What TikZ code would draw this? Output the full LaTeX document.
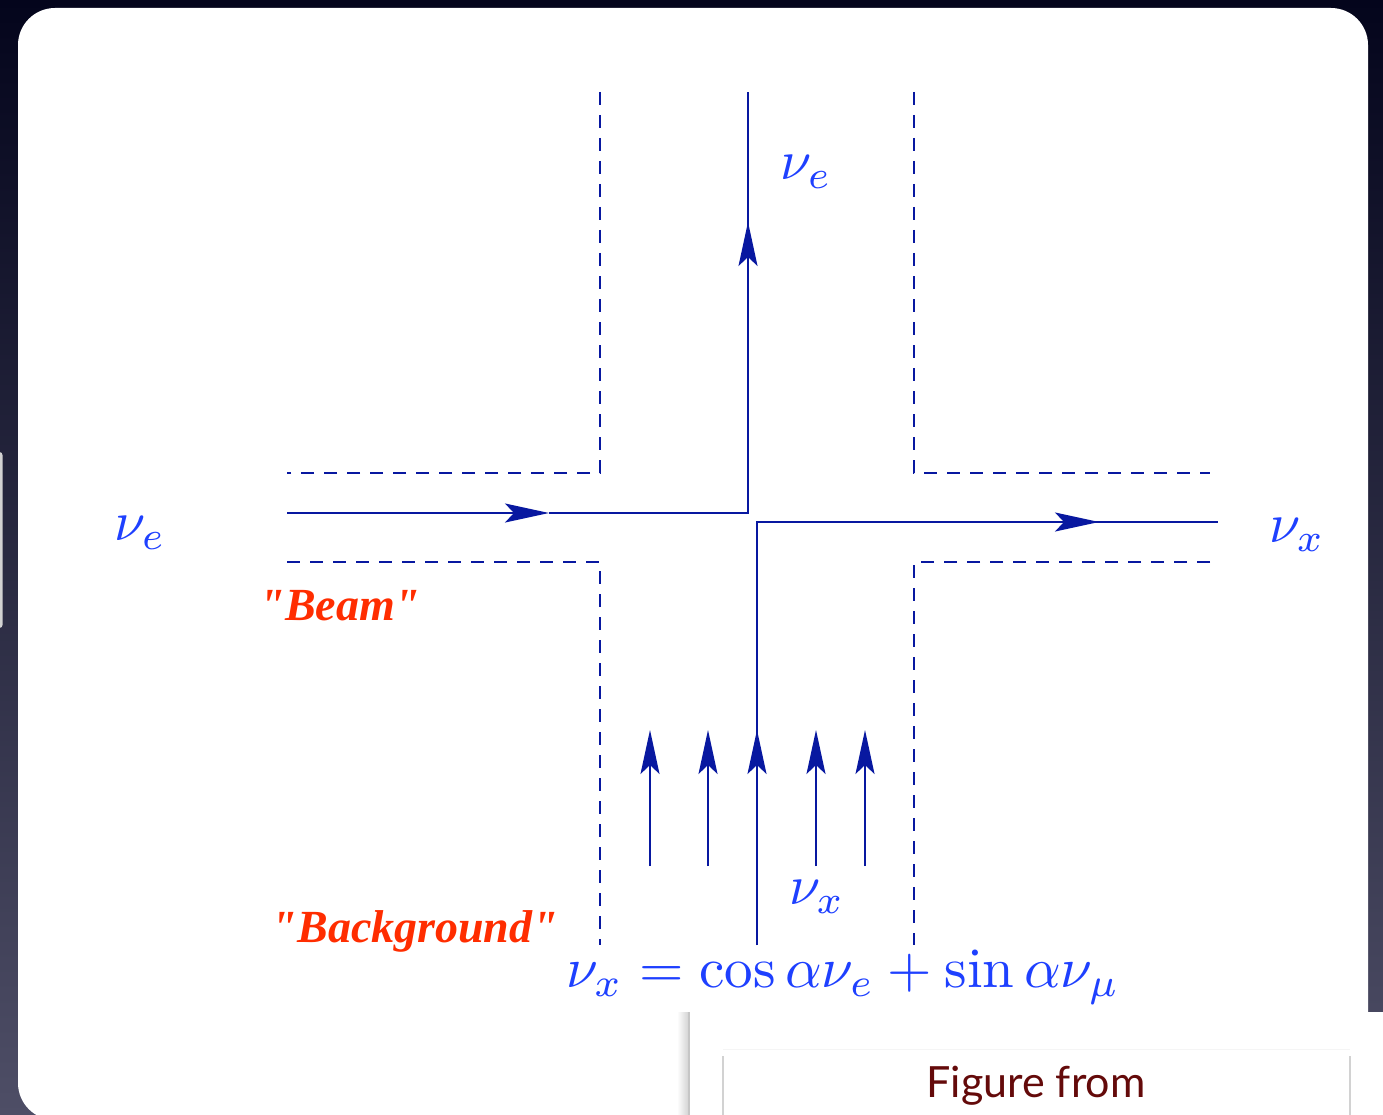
\documentclass[tikz,border=0pt]{standalone}
\usepackage{fontspec}
\usetikzlibrary{arrows.meta}
\newfontfamily\redfont{Liberation Serif}
\newfontfamily\capfont{Lato}
\definecolor{linecol}{RGB}{8,24,160}
\definecolor{textblue}{RGB}{30,64,255}
\definecolor{redc}{RGB}{255,45,0}
\definecolor{figred}{RGB}{100,10,10}
\definecolor{bgtop}{RGB}{4,5,28}
\definecolor{bgbot}{RGB}{78,78,102}
\tikzset{
  wire/.style={draw=linecol, line width=2pt},
  dashwall/.style={draw=linecol, line width=1.8pt, dash pattern=on 13pt off 10pt},
  flow/.style={wire, -{Stealth[length=44pt,width=19pt,inset=9pt]}},
  lbl/.style={text=textblue, scale=5.6, inner sep=0pt},
  redlbl/.style={text=redc, inner sep=0pt, font=\redfont\bfseries\itshape\fontsize{46}{50}\selectfont}
}
\begin{document}
\begin{tikzpicture}[x=1pt,y=-1pt]
\useasboundingbox (0,0) rectangle (1383,1115);
% backdrop
\shade[top color=bgtop, bottom color=bgbot] (0,0) rectangle (1383,1115);
\fill[gray!35, rounded corners=3pt] (-6,452) rectangle (2.5,628);
\fill[white, rounded corners=37pt] (18,8) rectangle (1368,1120);
% caption box
\fill[white] (689,1012) rectangle (1390,1125);
\shade[left color=white, right color=black!18] (677,1012) rectangle (689,1125);
\draw[gray!45, line width=1.2pt] (689,1012) -- (689,1125);
\fill[white] (723,1049) rectangle (1350,1130);
\draw[gray!8, line width=1pt] (723,1049) -- (1350,1049);
\draw[gray!35, line width=1.2pt] (723,1056) -- (723,1130);
\draw[gray!35, line width=1.2pt] (1350,1056) -- (1350,1130);
\node[font=\capfont\fontsize{43}{48}\selectfont, text=figred] (cap) at (1036,1086) {Figure from};

% coordinates of walls
\coordinate (tl1) at (600,92);  \coordinate (tl2) at (600,473);  \coordinate (tl3) at (287,473);
\coordinate (tr1) at (914,92);  \coordinate (tr2) at (914,473);  \coordinate (tr3) at (1210,473);
\coordinate (bl1) at (287,562); \coordinate (bl2) at (600,562);  \coordinate (bl3) at (600,945);
\coordinate (br1) at (1210,562);\coordinate (br2) at (914,562);  \coordinate (br3) at (914,945);
\draw[dashwall] (tl1) -- (tl2) -- (tl3);
\draw[dashwall] (tr1) -- (tr2) -- (tr3);
\draw[dashwall] (bl1) -- (bl2) -- (bl3);
\draw[dashwall] (br1) -- (br2) -- (br3);

% beam path
\coordinate (b0) at (287,513); \coordinate (b1) at (549,513); \coordinate (b2) at (748,513);
\coordinate (b3) at (748,222); \coordinate (b4) at (748,92);
\draw[flow] (b0) -- (b1);
\draw[wire, line join=miter] (b1) -- (b2) -- (b4);
\draw[flow] (b2) -- (b3);

% background path
\coordinate (g0) at (757,945); \coordinate (g1) at (757,730); \coordinate (g2) at (757,522);
\coordinate (g3) at (1099,522); \coordinate (g4) at (1218,522);
\draw[wire, line join=miter] (g0) -- (g2) -- (g4);
\draw[flow] (g0) -- (g1);
\draw[flow] (g2) -- (g3);

% small arrows
\foreach \i/\xx in {1/650, 2/708, 4/816, 5/865} {
  \coordinate (s\i a) at (\xx,866);
  \coordinate (s\i b) at (\xx,730);
  \draw[flow] (s\i a) -- (s\i b);
}

% labels
\node[lbl] (nuetop) at (806,172) {$\nu_e$};
\node[lbl] (nueleft) at (140,533) {$\nu_e$};
\node[lbl] (nuxright) at (1297,535) {$\nu_x$};
\node[lbl] (nuxbot) at (817,897) {$\nu_x$};
\node[lbl, scale=1.02] (eq) at (843,977) {$\nu_x=\cos\alpha\nu_e+\sin\alpha\nu_\mu$};
\node[redlbl] (beam) at (340,606) {"Beam"};
\node[redlbl] (bkg) at (415,931) {"Background"};
\end{tikzpicture}
\end{document}
